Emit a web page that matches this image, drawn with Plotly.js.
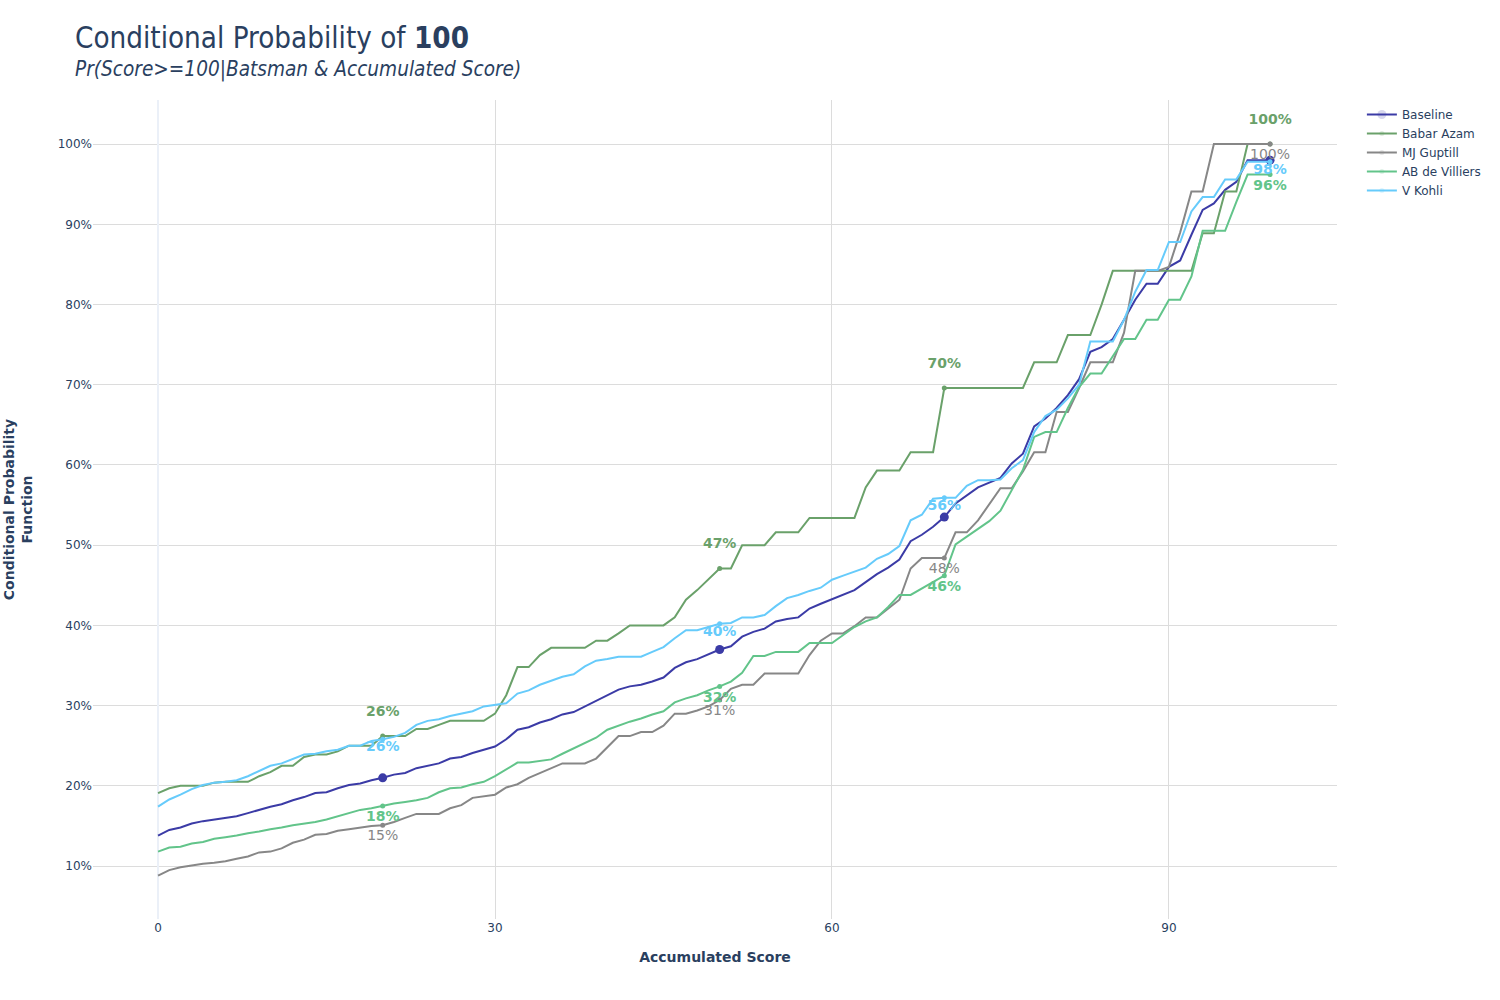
<!DOCTYPE html>
<html>
<head>
<meta charset="utf-8">
<script src="https://cdn.plot.ly/plotly-3.0.1.min.js"></script>
<style>html,body{margin:0;padding:0;background:#fff;}#chart{width:1500px;height:1000px;}</style>
</head>
<body>
<div id="chart"></div>
<script>
// Accumulated score (x) 0..99
const scores = [];
for (let i = 0; i < 100; i++) scores.push(i);

// Conditional probability (%) per series
const baseline = [13.8,14.5,14.8,15.3,15.6,15.8,16.0,16.2,16.6,17.0,
  17.4,17.7,18.2,18.6,19.1,19.2,19.7,20.1,20.3,20.7,
  21.0,21.4,21.6,22.2,22.5,22.8,23.4,23.6,24.1,24.5,
  24.9,25.8,27.0,27.3,27.9,28.3,28.9,29.2,29.9,30.5,
  31.3,32.0,32.4,32.6,33.0,33.5,34.7,35.4,35.8,36.4,
  37.0,37.4,38.6,39.2,39.6,40.5,40.8,41.0,42.1,42.7,
  43.3,43.9,44.4,45.4,46.4,47.2,48.2,50.5,51.3,52.3,
  53.5,55.2,56.2,57.2,57.8,58.4,60.2,61.4,64.8,65.8,
  67.1,68.7,70.7,74.1,74.7,75.7,78.1,80.6,82.6,82.6,
  84.7,85.5,88.7,91.8,92.6,94.3,95.3,98.0,98.0,98.0];

const babarAzam = [19.1,19.7,20.0,20.0,20.0,20.4,20.5,20.5,20.5,21.2,
  21.7,22.5,22.5,23.6,23.9,23.9,24.3,25.0,25.0,25.0,
  26.2,26.2,26.2,27.1,27.1,27.6,28.1,28.1,28.1,28.1,
  29.0,31.3,34.8,34.8,36.3,37.2,37.2,37.2,37.2,38.1,
  38.1,39.0,40.0,40.0,40.0,40.0,41.0,43.2,44.4,45.7,
  47.1,47.1,50.0,50.0,50.0,51.6,51.6,51.6,53.4,53.4,
  53.4,53.4,53.4,57.2,59.3,59.3,59.3,61.6,61.6,61.6,
  69.6,69.6,69.6,69.6,69.6,69.6,69.6,69.6,72.8,72.8,
  72.8,76.2,76.2,76.2,80.0,84.2,84.2,84.2,84.2,84.2,
  84.2,84.2,84.2,88.9,88.9,94.1,94.1,100,100,100];

const mjGuptill = [8.8,9.5,9.85,10.1,10.3,10.4,10.6,10.9,11.2,11.7,
  11.8,12.2,12.9,13.3,13.9,14.0,14.4,14.6,14.8,15.0,
  15.1,15.5,16.0,16.5,16.5,16.5,17.2,17.6,18.5,18.7,
  18.9,19.8,20.2,21.0,21.6,22.2,22.8,22.8,22.8,23.4,
  24.8,26.2,26.2,26.7,26.7,27.5,29.0,29.0,29.4,29.9,
  30.7,32.1,32.6,32.6,34.0,34.0,34.0,34.0,36.3,38.1,
  39.0,39.0,39.9,41.0,41.0,42.1,43.2,47.1,48.4,48.4,
  48.4,51.6,51.6,53.1,55.1,57.1,57.1,59.2,61.6,61.6,
  66.6,66.6,69.6,72.8,72.8,72.8,76.5,84.2,84.2,84.2,
  84.7,89.0,94.1,94.1,100,100,100,100,100,100];

const abDeVilliers = [11.8,12.3,12.4,12.8,13.0,13.4,13.6,13.8,14.1,14.3,
  14.6,14.8,15.1,15.3,15.5,15.8,16.2,16.6,17.0,17.2,
  17.5,17.8,18.0,18.2,18.5,19.2,19.7,19.8,20.2,20.5,
  21.2,22.1,22.9,22.9,23.1,23.3,24.0,24.7,25.4,26.0,
  27.0,27.5,28.0,28.4,28.9,29.3,30.4,30.9,31.3,31.9,
  32.4,33.0,34.1,36.2,36.2,36.7,36.7,36.7,37.8,37.8,
  37.8,38.8,39.8,40.5,41.0,42.3,43.8,43.8,44.6,45.4,
  46.2,50.1,51.1,52.0,53.0,54.3,56.9,59.4,63.5,64.1,
  64.1,67.1,69.7,71.4,71.4,73.6,75.7,75.7,78.1,78.1,
  80.6,80.6,83.5,89.2,89.2,89.2,92.8,96.2,96.2,96.2];

const vKohli = [17.4,18.3,18.9,19.6,20.1,20.4,20.5,20.7,21.2,21.9,
  22.5,22.8,23.4,23.9,24.0,24.3,24.5,25.0,25.0,25.6,
  25.8,26.1,26.6,27.6,28.1,28.3,28.7,29.0,29.3,29.9,
  30.1,30.3,31.5,31.9,32.6,33.1,33.6,33.9,34.9,35.6,
  35.8,36.1,36.1,36.1,36.7,37.3,38.4,39.4,39.4,39.8,
  40.2,40.3,41.0,41.0,41.3,42.4,43.4,43.8,44.3,44.7,
  45.7,46.2,46.7,47.2,48.3,48.9,49.9,53.1,53.8,55.8,
  55.9,55.9,57.4,58.1,58.1,58.2,59.6,60.6,64.1,66.1,
  66.9,68.3,70.0,75.4,75.4,75.4,78.1,81.6,84.3,84.3,
  87.8,87.8,91.6,93.4,93.4,95.6,95.6,97.8,97.8,97.8];

// Scores at which a point is highlighted and labelled
const labelScores = [20, 50, 70, 99];

const seriesNames = ['Baseline', 'Babar Azam', 'MJ Guptill', 'AB de Villiers', 'V Kohli'];

function markOpacity() {
  return scores.map(s => labelScores.includes(s) ? 1 : 0);
}

const styles = [
  {data: baseline, color: '#3b3ba6', msize: 9, text: false},
  {data: babarAzam, color: '#6aa16a', msize: 5, text: true, pos: 'top center', pad: 25, bold: true},
  {data: mjGuptill, color: '#878787', msize: 5, text: true, pos: 'bottom center', pad: 0, bold: false},
  {data: abDeVilliers, color: '#62c48a', msize: 5, text: true, pos: 'bottom center', pad: 0, bold: true},
  {data: vKohli, color: '#66cbfb', msize: 5, text: true, pos: 'bottom center', pad: 1, bold: true}
];

const traces = styles.map((st, k) => ({
  type: 'scatter',
  mode: 'lines+markers',
  name: seriesNames[k],
  x: scores,
  y: st.data,
  line: {color: st.color, width: 2},
  marker: {color: st.color, size: st.msize, opacity: markOpacity()},
  hoverinfo: 'x+y+name'
}));

// Percentage labels at the highlighted scores
styles.forEach((st, k) => {
  if (!st.text) return;
  const ly = labelScores.map(s => st.data[scores.indexOf(s)]);
  traces.push({
    type: 'scatter',
    mode: 'markers+text',
    showlegend: false,
    hoverinfo: 'skip',
    x: labelScores,
    y: ly,
    text: ly.map(v => Math.round(v) + '%'),
    textposition: st.pos,
    marker: {size: st.pad, opacity: 0, color: st.color},
    textfont: {color: st.color, size: 14, family: 'DejaVu Sans', weight: st.bold ? 'bold' : 'normal'}
  });
});

const layout = {
  width: 1500,
  height: 1000,
  paper_bgcolor: '#fff',
  plot_bgcolor: '#fff',
  font: {family: 'DejaVu Sans', color: '#2a3f5f', size: 12},
  margin: {l: 93, r: 163, t: 100, b: 81},
  title: {
    text: 'Conditional Probability of <b>100</b>',
    x: 0.05, xanchor: 'left',
    yref: 'container', y: 0.973, yanchor: 'top',
    font: {family: 'DejaVu Sans Condensed, Liberation Sans', size: 29.3, color: '#2a3f5f'}
  },
  annotations: [{
    text: '<i>Pr(Score>=100|Batsman & Accumulated Score)</i>',
    xref: 'paper', yref: 'paper',
    x: -0.0162, xanchor: 'left',
    y: 1.0372, yanchor: 'middle',
    showarrow: false,
    font: {family: 'DejaVu Sans Condensed, Liberation Sans', size: 20.6, color: '#2a3f5f'}
  }],
  xaxis: {
    range: [-5.79, 104.96],
    tickmode: 'linear', tick0: 0, dtick: 30,
    gridcolor: '#dcdcdc',
    zeroline: true, zerolinecolor: '#EBF0F8', zerolinewidth: 2,
    showline: false, ticks: '',
    tickfont: {size: 12},
    title: {text: '<b>Accumulated Score</b>', font: {size: 14}, standoff: 18}
  },
  yaxis: {
    range: [3.4, 105.5],
    tickmode: 'linear', tick0: 10, dtick: 10,
    ticksuffix: '%',
    gridcolor: '#dcdcdc',
    zeroline: false, showline: false, ticks: '',
    tickfont: {size: 12},
    title: {text: '<b>Conditional Probability<br>Function</b>', font: {size: 14}, standoff: 21}
  },
  legend: {
    x: 1.02, y: 1, xanchor: 'left', yanchor: 'top',
    font: {size: 12, color: '#2a3f5f'},
    tracegroupgap: 0
  },
  showlegend: true
};

Plotly.newPlot('chart', traces, layout, {displayModeBar: false});
</script>
</body>
</html>
